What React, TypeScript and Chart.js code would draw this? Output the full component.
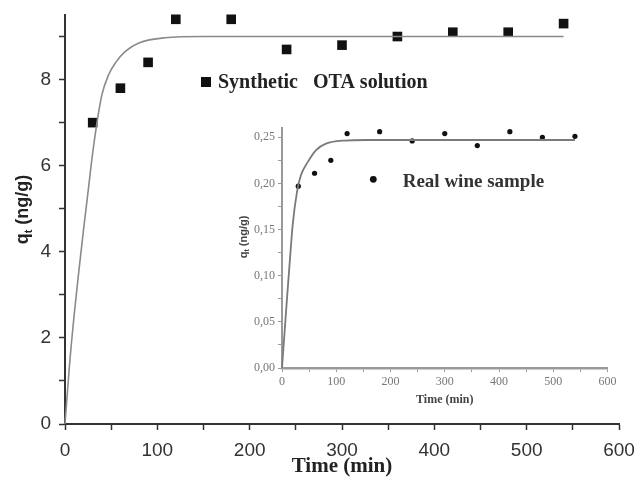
import React, { useEffect, useRef } from 'react';
import { Chart, registerables } from 'chart.js';

Chart.register(...registerables);

// ---- data ----
const sampleTime = [30, 60, 90, 120, 180, 240, 300, 360, 420, 480, 540];
const synthQt = [7.0, 7.8, 8.4, 9.4, 9.4, 8.7, 8.8, 9.0, 9.1, 9.1, 9.3];
const wineQt = [0.197, 0.211, 0.225, 0.254, 0.256, 0.246, 0.254, 0.241, 0.256, 0.25, 0.251];

const synthFitTime = [0, 5, 10, 15, 20, 25, 30, 35, 40, 47, 55, 65, 80, 108, 150, 540];
const synthFitQt = [0, 1.4, 2.55, 3.55, 4.5, 5.4, 6.3, 7.05, 7.65, 8.1, 8.4, 8.65, 8.85, 8.97, 9.0, 9.0];

const wineFitTime = [0, 9.3, 14.8, 19.7, 27.7, 35, 47.4, 62.8, 81, 115, 155, 540];
const wineFitQt = [0, 0.076, 0.119, 0.155, 0.191, 0.209, 0.223, 0.236, 0.243, 0.2464, 0.247, 0.247];

const mainLegendText = 'Synthetic   OTA solution';
const insetLegendText = 'Real wine sample';
const xTitle = 'Time (min)';

const pts = (xs: number[], ys: number[]) => xs.map((x, i) => ({ x, y: ys[i] }));

const noPad = (s: any) => {
  s.paddingTop = 0;
  s.paddingBottom = 0;
  s.paddingLeft = 0;
  s.paddingRight = 0;
};

type TitleOpts = { dx: number; dy: number; size: number; family: string; color: string };
const qtTitle = (o: TitleOpts) => ({
  id: 'qtTitle',
  afterDraw(chart: any) {
    const { ctx, chartArea } = chart;
    const x = chartArea.left - o.dx;
    const y = (chartArea.top + chartArea.bottom) / 2 + o.dy;
    ctx.save();
    ctx.translate(x, y);
    ctx.rotate(-Math.PI / 2);
    ctx.fillStyle = o.color;
    ctx.textBaseline = 'alphabetic';
    ctx.textAlign = 'left';
    const big = `bold ${o.size}px "${o.family}"`;
    const small = `bold ${Math.round(o.size * 0.62)}px "${o.family}"`;
    const rest = ' (ng/g)';
    ctx.font = big;
    const w1 = ctx.measureText('q').width;
    const w3 = ctx.measureText(rest).width;
    ctx.font = small;
    const w2 = ctx.measureText('t').width;
    let cx = -(w1 + w2 + w3) / 2;
    const base = o.size * 0.35;
    ctx.font = big;
    ctx.fillText('q', cx, base);
    cx += w1;
    ctx.font = small;
    ctx.fillText('t', cx, base + o.size * 0.22);
    cx += w2;
    ctx.font = big;
    ctx.fillText(rest, cx, base);
    ctx.restore();
  },
});

type LegOpts = {
  mx: number; my: number; marker: 'rect' | 'circle'; msize: number;
  tx: number; ty: number; text: string; size: number; color: string;
};
const legendNote = (o: LegOpts) => ({
  id: 'legendNote',
  afterDraw(chart: any) {
    const { ctx, chartArea } = chart;
    const mx = chartArea.left + o.mx;
    const my = chartArea.top + o.my;
    ctx.save();
    ctx.fillStyle = '#111';
    if (o.marker === 'rect') {
      ctx.fillRect(mx - o.msize / 2, my - o.msize / 2, o.msize, o.msize);
    } else {
      ctx.beginPath();
      ctx.arc(mx, my, o.msize, 0, Math.PI * 2);
      ctx.fill();
    }
    ctx.fillStyle = o.color;
    ctx.font = `bold ${o.size}px "Liberation Serif"`;
    ctx.textBaseline = 'alphabetic';
    ctx.textAlign = 'left';
    ctx.fillText(o.text, chartArea.left + o.tx, chartArea.top + o.ty);
    ctx.restore();
  },
});

export default function App() {
  const mainRef = useRef<HTMLCanvasElement>(null);
  const insetRef = useRef<HTMLCanvasElement>(null);

  useEffect(() => {
    document.body.style.margin = '0';
    if (!mainRef.current || !insetRef.current) return;

    const main = new Chart(mainRef.current, {
      type: 'scatter',
      data: {
        datasets: [
          {
            label: 'fit',
            data: pts(synthFitTime, synthFitQt),
            showLine: true,
            pointRadius: 0,
            borderColor: '#8a8a8a',
            borderWidth: 1.6,
            cubicInterpolationMode: 'monotone',
            fill: false,
            clip: false,
          } as any,
          {
            label: 'Synthetic OTA solution',
            data: pts(sampleTime, synthQt),
            showLine: false,
            pointStyle: 'rect',
            pointRadius: 6.8,
            pointBackgroundColor: '#111',
            pointBorderColor: '#111',
            pointBorderWidth: 0,
            clip: false,
          } as any,
        ],
      },
      options: {
        responsive: false,
        animation: false,
        events: [],
        layout: { padding: { top: 15, right: 19, left: 0, bottom: 0 } },
        plugins: { legend: { display: false }, tooltip: { enabled: false } },
        scales: {
          x: {
            type: 'linear',
            min: 0,
            max: 600,
            afterFit: (s: any) => { s.height = 55; noPad(s); },
            ticks: {
              stepSize: 50,
              includeBounds: false,
              autoSkip: false,
              maxRotation: 0,
              padding: 9,
              color: '#333',
              font: { family: 'Liberation Sans', size: 19 },
              callback: (v: any) => (Math.round(v) % 100 === 0 ? String(v) : ''),
            },
            grid: { drawOnChartArea: false, drawTicks: true, tickLength: 6, tickColor: '#333', tickWidth: 1.5 },
            border: { display: true, color: '#333', width: 2 },
            title: {
              display: true,
              text: xTitle,
              color: '#222',
              font: { family: 'Liberation Serif', size: 21, weight: 'bold' },
              padding: { top: 0, bottom: 0 },
            },
          },
          y: {
            type: 'linear',
            min: 0,
            max: 9.5,
            afterFit: (s: any) => { s.width = 65; noPad(s); },
            ticks: {
              stepSize: 1,
              includeBounds: false,
              autoSkip: false,
              padding: 8,
              color: '#333',
              font: { family: 'Liberation Sans', size: 19 },
              callback: (v: any) => (Math.round(v) % 2 === 0 ? String(v) : ''),
            },
            grid: { drawOnChartArea: false, drawTicks: true, tickLength: 6, tickColor: '#333', tickWidth: 1.5 },
            border: { display: true, color: '#333', width: 2 },
          },
        },
      } as any,
      plugins: [
        qtTitle({ dx: 43.5, dy: -10, size: 18, family: 'Liberation Sans', color: '#222' }),
        legendNote({ mx: 141, my: 67, marker: 'rect', msize: 10, tx: 153, ty: 73, text: mainLegendText, size: 20, color: '#222' }),
      ],
    });

    const inset = new Chart(insetRef.current, {
      type: 'scatter',
      data: {
        datasets: [
          {
            label: 'fit',
            data: pts(wineFitTime, wineFitQt),
            showLine: true,
            pointRadius: 0,
            borderColor: '#7a7a7a',
            borderWidth: 1.8,
            cubicInterpolationMode: 'monotone',
            fill: false,
            clip: false,
          } as any,
          {
            label: 'Real wine sample',
            data: pts(sampleTime, wineQt),
            showLine: false,
            pointStyle: 'circle',
            pointRadius: 2.6,
            pointBackgroundColor: '#111',
            pointBorderColor: '#111',
            pointBorderWidth: 0,
            clip: false,
          } as any,
        ],
      },
      options: {
        responsive: false,
        animation: false,
        events: [],
        layout: { padding: { top: 13, right: 12.5, left: 0, bottom: 0 } },
        plugins: { legend: { display: false }, tooltip: { enabled: false } },
        scales: {
          x: {
            type: 'linear',
            min: 0,
            max: 600,
            afterFit: (s: any) => { s.height = 47; noPad(s); },
            ticks: {
              stepSize: 50,
              includeBounds: false,
              autoSkip: false,
              maxRotation: 0,
              padding: 3,
              color: '#777',
              font: { family: 'Liberation Serif', size: 12 },
              callback: (v: any) => (Math.round(v) % 100 === 0 ? String(v) : ''),
            },
            grid: { drawOnChartArea: false, drawTicks: true, tickLength: 4, tickColor: '#999', tickWidth: 1 },
            border: { display: true, color: '#9a9a9a', width: 2.5 },
            title: {
              display: true,
              text: xTitle,
              color: '#444',
              font: { family: 'Liberation Serif', size: 12, weight: 'bold' },
              padding: { top: 0, bottom: 8 },
            },
          },
          y: {
            type: 'linear',
            min: 0,
            max: 0.26,
            afterFit: (s: any) => { s.width = 52; noPad(s); },
            ticks: {
              stepSize: 0.025,
              includeBounds: false,
              autoSkip: false,
              padding: 3,
              color: '#777',
              font: { family: 'Liberation Serif', size: 12 },
              callback: (v: any) => {
                const k = Math.round(v / 0.025);
                return k % 2 === 0 ? (k * 0.025).toFixed(2).replace('.', ',') : '';
              },
            },
            grid: { drawOnChartArea: false, drawTicks: true, tickLength: 4, tickColor: '#999', tickWidth: 1 },
            border: { display: true, color: '#9a9a9a', width: 2 },
          },
        },
      } as any,
      plugins: [
        qtTitle({ dx: 39, dy: -11, size: 11, family: 'Liberation Sans', color: '#444' }),
        legendNote({ mx: 91.3, my: 51.3, marker: 'circle', msize: 3.4, tx: 120.7, ty: 58.5, text: insetLegendText, size: 19, color: '#333' }),
      ],
    });

    return () => {
      main.destroy();
      inset.destroy();
    };
  }, []);

  return (
    <div style={{ position: 'relative', width: 638, height: 479, background: '#fff' }}>
      <canvas ref={mainRef} width={638} height={479} style={{ position: 'absolute', left: 0, top: 0 }} />
      <canvas ref={insetRef} width={390} height={300} style={{ position: 'absolute', left: 230, top: 115 }} />
    </div>
  );
}
